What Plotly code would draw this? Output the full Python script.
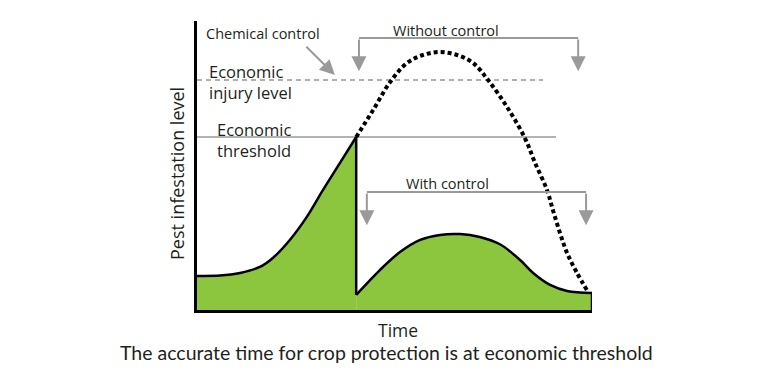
import plotly.graph_objects as go

# ---- data (time units 0..10, pest level units) ----
time_before = [0.0, 0.58, 1.09, 1.59, 1.92, 2.35, 2.78, 3.19, 3.62, 4.03]
level_before = [1.97, 1.99, 2.14, 2.49, 3.01, 4.05, 5.38, 6.94, 8.50, 10.0]

time_without = [4.03, 4.46, 4.89, 5.32, 5.72, 6.15, 6.58, 6.99, 7.37, 7.85, 8.30, 8.56, 8.86, 9.01, 9.19, 9.37, 9.62, 9.90]
level_without = [10.0, 11.56, 13.18, 14.28, 14.74, 14.91, 14.74, 14.28, 13.29, 11.73, 9.94, 8.50, 6.94, 5.78, 4.45, 3.29, 2.14, 1.04]

time_with = [4.03, 4.63, 5.14, 5.65, 6.15, 6.66, 7.16, 7.67, 8.18, 8.51, 8.94, 9.37, 10.0]
level_with = [0.87, 2.31, 3.35, 4.05, 4.34, 4.39, 4.22, 3.80, 2.89, 2.14, 1.45, 1.10, 0.98]

control_time = 4.03
end_time = 10.0
economic_threshold = 10.0
economic_injury_level = 13.3

GREEN = "#8CC63F"
GRAY = "#9a9a9a"
FONT = "Open Sans"
TXT = "#231f20"

fig = go.Figure()

# green areas
fig.add_trace(go.Scatter(x=time_before, y=level_before, mode="lines", line=dict(color="black", width=2.5, shape="spline"),
                         fill="tozeroy", fillcolor=GREEN, hoverinfo="skip"))
fig.add_trace(go.Scatter(x=time_with, y=level_with, mode="lines", line=dict(color="black", width=2.5, shape="spline"),
                         fill="tozeroy", fillcolor=GREEN, hoverinfo="skip"))
# vertical edges
fig.add_trace(go.Scatter(x=[control_time, control_time], y=[level_before[-1], level_with[0]], mode="lines",
                         line=dict(color="black", width=2.5), hoverinfo="skip"))
fig.add_trace(go.Scatter(x=[end_time, end_time], y=[level_with[-1], 0], mode="lines",
                         line=dict(color="black", width=2.5), hoverinfo="skip"))
# without control dotted
fig.add_trace(go.Scatter(x=time_without, y=level_without, mode="lines",
                         line=dict(color="black", width=4, dash="4px,3px", shape="spline"), hoverinfo="skip"))

# reference lines
fig.add_shape(type="line", x0=0, x1=9.09, y0=economic_threshold, y1=economic_threshold,
              line=dict(color=GRAY, width=1.6), layer="below")
fig.add_shape(type="line", x0=0, x1=8.76, y0=economic_injury_level, y1=economic_injury_level,
              line=dict(color="#b0b0b0", width=2, dash="5px,4px"), layer="below")

# brackets
fig.add_shape(type="line", x0=4.1, x1=9.65, y0=15.72, y1=15.72, line=dict(color=GRAY, width=2))
fig.add_shape(type="line", x0=4.3, x1=9.85, y0=6.82, y1=6.82, line=dict(color=GRAY, width=2))

def arrow(x, y, ax, ay):
    fig.add_annotation(x=x, y=y, ax=ax, ay=ay, xref="x", yref="y", axref="x", ayref="y",
                       showarrow=True, arrowhead=2, arrowsize=1.5, arrowwidth=2, arrowcolor=GRAY,
                       standoff=0, text="")

arrow(4.1, 13.8, 4.1, 15.72)
arrow(9.65, 13.8, 9.65, 15.72)
arrow(4.3, 4.9, 4.3, 6.82)
arrow(9.85, 4.9, 9.85, 6.82)
arrow(3.49, 13.58, 2.73, 15.3)

def label(text, x, y, size=13, xanchor="center", align="center"):
    fig.add_annotation(x=x, y=y, xref="x", yref="y", text=text, showarrow=False,
                       xanchor=xanchor, yanchor="middle", align=align,
                       font=dict(family=FONT, size=size, color=TXT))

label("Chemical control", 0.18, 16.0, 14.5, "left", "left")
label("Economic<br>injury level", 0.25, 13.2, 16.5, "left", "left")
label("Economic<br>threshold", 0.46, 9.85, 16.5, "left", "left")
label("Without control", 6.3, 16.18, 14.5)
label("With control", 6.33, 7.34, 14.5)

# outside texts (paper refs)
def ptext(text, px, py, size, angle=0, family=FONT):
    fig.add_annotation(x=(px - 197) / 395, y=(310 - py) / 289, xref="paper", yref="paper",
                       text=text, showarrow=False, textangle=angle, xanchor="center", yanchor="middle",
                       font=dict(family=family, size=size, color=TXT))

ptext("Pest infestation level", 177, 174, 18, -90)
ptext("Time", 398, 330, 17.5)
ptext("The accurate time for crop protection is at economic threshold", 386, 352, 19.5, 0, "Lato")

fig.update_xaxes(range=[0, 10], showgrid=False, zeroline=False, showticklabels=False, ticks="",
                 showline=True, linecolor="black", linewidth=3, showspikes=False)
fig.update_yaxes(range=[0, 16.705], showgrid=False, zeroline=False, showticklabels=False, ticks="",
                 showline=True, linecolor="black", linewidth=3, showspikes=False)
fig.update_layout(width=768, height=384, margin=dict(l=197, r=176, t=21, b=74),
                  plot_bgcolor="white", paper_bgcolor="white", showlegend=False, hovermode=False)

fig.write_html("out.html", config={"displayModeBar": False},
               post_script="document.body.style.margin='0';")
